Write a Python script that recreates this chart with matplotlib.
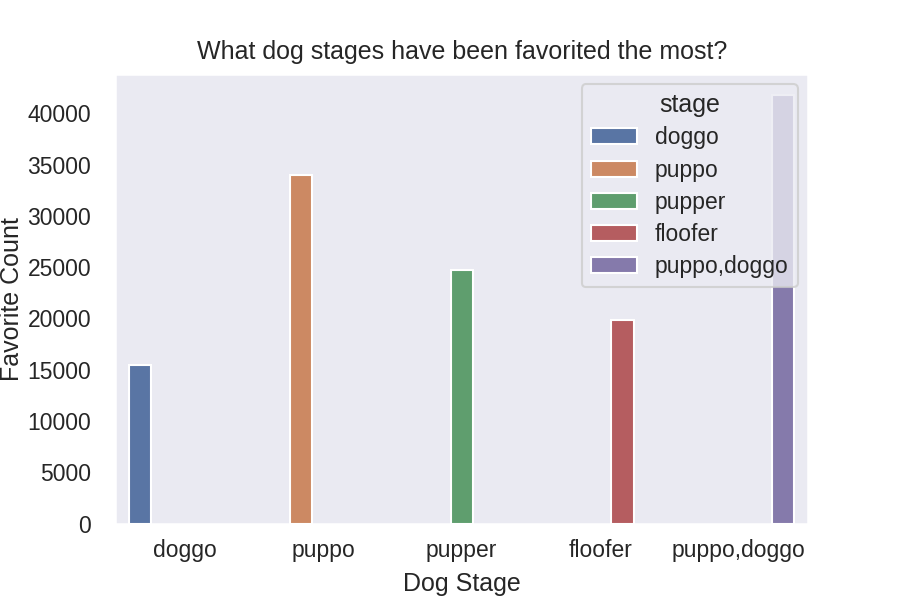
import numpy as np
import matplotlib
matplotlib.use('Agg')
import matplotlib.pyplot as plt
import seaborn as sns

stages = ['doggo', 'puppo', 'pupper', 'floofer', 'puppo,doggo']
favorites = [15450, 33950, 24700, 19850, 41750]
# seaborn "deep" palette at saturation 0.75
colors = ['#5975a4', '#cc8963', '#5f9e6e', '#b55d60', '#857aab']

sns.set_theme(style='darkgrid')
plt.rcParams['font.family'] = ['Arial', 'Liberation Sans', 'DejaVu Sans']

fig, ax = plt.subplots(figsize=[6, 4], dpi=150)
fig.subplots_adjust(left=0.128, right=0.898, top=0.877, bottom=0.127)

n = len(stages)
w = 0.8 / n
x = np.arange(n)
for i, (s, v, c) in enumerate(zip(stages, favorites, colors)):
    off = -0.4 + w / 2 + i * w
    ax.bar(x[i] + off, v, width=w, color=c, edgecolor='white', linewidth=1.0, label=s)

ax.set_xticks(x)
ax.set_xticklabels(stages)
ax.set_xlim(-0.5, n - 0.5)
ax.tick_params(axis='x', pad=1.2)
ax.tick_params(axis='y', pad=5.5)
ax.grid(False)
ax.set_xlabel('Dog Stage', labelpad=5)
ax.set_ylabel('Favorite Count', labelpad=1.5)
ax.set_title('What dog stages have been favorited the most?', pad=7)
ax.legend(title='stage', loc='upper right', labelspacing=0.4, borderaxespad=0.45)

fig.savefig('out.png', dpi=150)
